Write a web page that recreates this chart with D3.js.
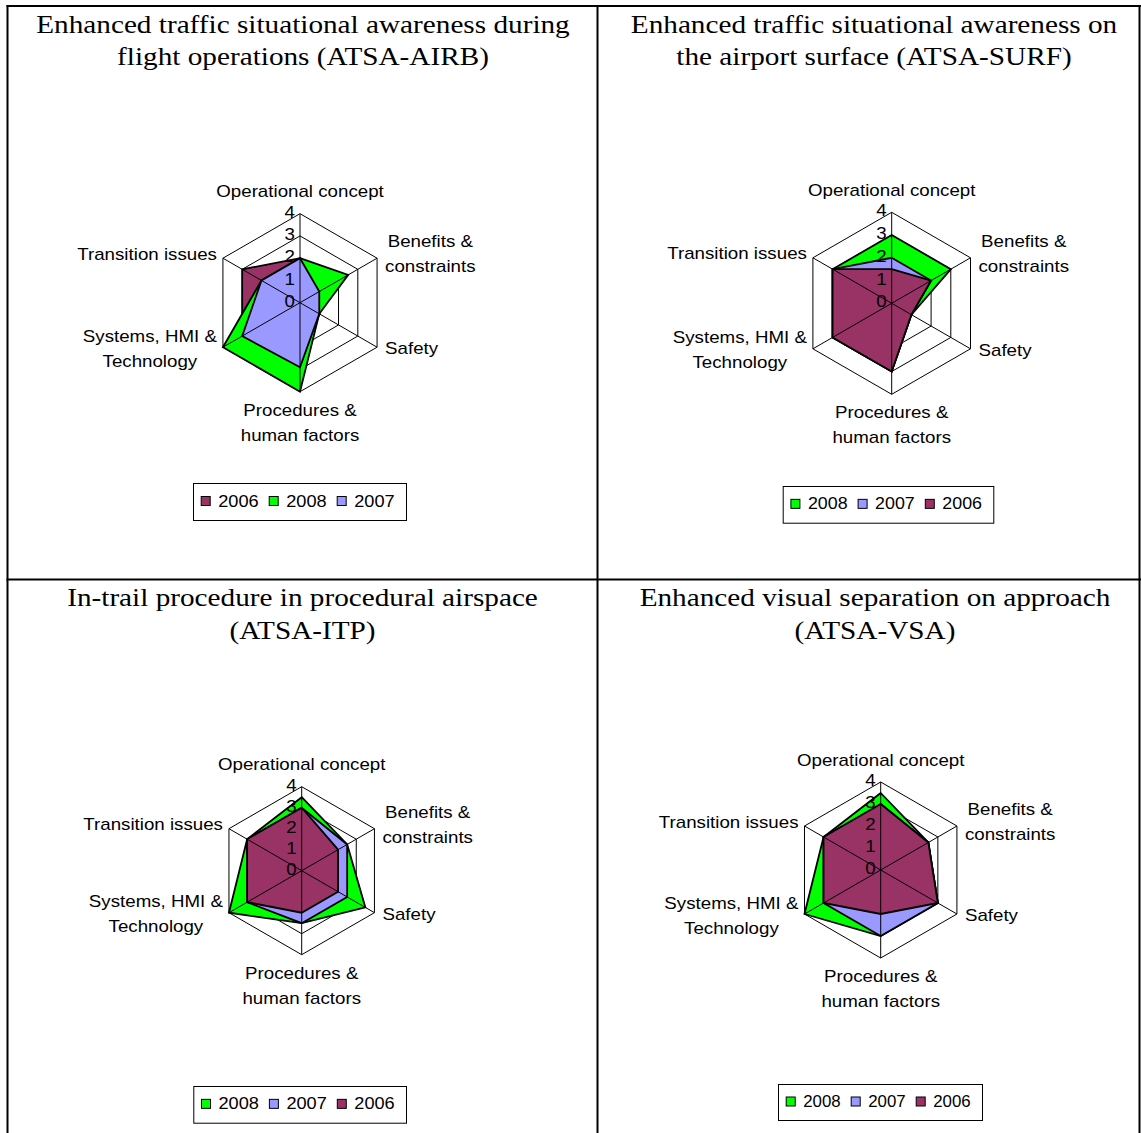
<!DOCTYPE html>
<html>
<head>
<meta charset="utf-8">
<script src="https://cdn.jsdelivr.net/npm/d3@7"></script>
<style>
  html, body { margin: 0; padding: 0; background: #fff; }
  svg { display: block; }
</style>
</head>
<body>
<svg id="chart" width="1141" height="1133"></svg>
<script>
// ---------- DATA ----------
const categories = ["Operational concept", "Benefits & constraints", "Safety",
  "Procedures & human factors", "Systems, HMI & Technology", "Transition issues"];
const categoryLines = [["Operational concept"], ["Benefits &", "constraints"], ["Safety"],
  ["Procedures &", "human factors"], ["Systems, HMI &", "Technology"], ["Transition issues"]];
const tickLabels = ["0", "1", "2", "3", "4"];
const years = ["2006", "2007", "2008"];

const titleAIRB = ["Enhanced traffic situational awareness during", "flight operations (ATSA-AIRB)"];
const titleSURF = ["Enhanced traffic situational awareness on", "the airport surface (ATSA-SURF)"];
const titleITP  = ["In-trail procedure in procedural airspace", "(ATSA-ITP)"];
const titleVSA  = ["Enhanced visual separation on approach", "(ATSA-VSA)"];

const airb2006 = [2, 2, 1, 3, 3, 3];
const airb2008 = [2, 2.5, 1, 4, 4, 2];
const airb2007 = [2, 1, 1, 2.9, 3, 2];

const surf2008 = [3, 3, 1, 3, 3, 3];
const surf2007 = [2, 2, 1, 3, 3, 3];
const surf2006 = [1.5, 2, 1, 3, 3, 3];

const itp2008 = [3.5, 2.5, 3.5, 2.5, 4, 3];
const itp2007 = [3, 2.5, 2.5, 2.5, 3, 3];
const itp2006 = [3, 2, 2, 2, 3, 3];

const vsa2008 = [3.5, 2.5, 3, 3, 4, 3];
const vsa2007 = [3, 2.5, 3, 3, 3, 3];
const vsa2006 = [3, 2.5, 3, 2, 3, 3];

const yearColors = { "2006": "#993366", "2007": "#9999FF", "2008": "#00FF00" };

// ---------- LAYOUT ----------
const charts = [
  { title: titleAIRB, tx: 303, ty: 32.5, cx: 300, cy: 302.7, R: 89,
    series: [["2006", airb2006], ["2008", airb2008], ["2007", airb2007]],
    legend: { x: 193, y: 483, w: 213, h: 37 } },
  { title: titleSURF, tx: 874, ty: 32.5, cx: 891.7, cy: 303.3, R: 91,
    series: [["2008", surf2008], ["2007", surf2007], ["2006", surf2006]],
    legend: { x: 782.7, y: 486, w: 210.6, h: 36.7 } },
  { title: titleITP, tx: 302.5, ty: 606.3, cx: 301.7, cy: 870.7, R: 84,
    series: [["2008", itp2008], ["2007", itp2007], ["2006", itp2006]],
    legend: { x: 193.3, y: 1086, w: 212.7, h: 36.7 } },
  { title: titleVSA, tx: 875, ty: 606.3, cx: 880.7, cy: 870, R: 88,
    series: [["2008", vsa2008], ["2007", vsa2007], ["2006", vsa2006]],
    legend: { x: 778, y: 1084, w: 204, h: 36 } }
];

const SANS = "'Liberation Sans', Arial, sans-serif";
const SERIF = "'Liberation Serif', 'Times New Roman', serif";
const SX = 1.17; // horizontal stretch of the reference's text

const svg = d3.select("#chart");

// table borders
const borders = svg.append("g").attr("stroke", "#000").attr("stroke-width", 2).attr("fill", "none");
borders.append("line").attr("x1", 6.5).attr("y1", 6).attr("x2", 1141).attr("y2", 6);
borders.append("line").attr("x1", 7.5).attr("y1", 5).attr("x2", 7.5).attr("y2", 1133);
borders.append("line").attr("x1", 597.5).attr("y1", 5).attr("x2", 597.5).attr("y2", 1133);
borders.append("line").attr("x1", 1139.5).attr("y1", 5).attr("x2", 1139.5).attr("y2", 1133);
borders.append("line").attr("x1", 6.5).attr("y1", 579.5).attr("x2", 1141).attr("y2", 579.5);

function stretchedText(g, x, y, str, opts) {
  const sx = opts.sx || SX;
  const t = g.append("text")
    .attr("transform", `translate(${x},${y}) scale(${sx},1)`)
    .attr("text-anchor", opts.anchor || "middle")
    .attr("font-family", opts.family || SANS)
    .attr("font-size", opts.size || 16)
    .attr("fill", "#000")
    .text(str);
  if (opts.dy) t.attr("dy", opts.dy);
  return t;
}

const nAxes = categories.length;
const angleOf = i => i * 2 * Math.PI / nAxes;

charts.forEach(ch => {
  const g = svg.append("g");
  // title
  ch.title.forEach((line, k) => {
    stretchedText(g, ch.tx, ch.ty + k * 32.5, line, { family: SERIF, size: 25 });
  });

  const r = d3.scaleLinear().domain([0, 4]).range([0, ch.R]);
  const plot = g.append("g").attr("transform", `translate(${ch.cx},${ch.cy})`);
  const pt = (i, v) => [Math.sin(angleOf(i)) * r(v), -Math.cos(angleOf(i)) * r(v)];

  const radial = d3.lineRadial()
    .angle((d, i) => angleOf(i))
    .radius(d => r(d))
    .curve(d3.curveLinearClosed);

  // grid rings
  tickLabels.slice(1).forEach(tl => {
    const v = +tl;
    plot.append("path")
      .attr("d", radial(d3.range(nAxes).map(() => v)))
      .attr("fill", "none").attr("stroke", "#000").attr("stroke-width", 1);
  });

  // series polygons
  ch.series.forEach(([yr, vals]) => {
    plot.append("path")
      .attr("d", radial(vals))
      .attr("fill", yearColors[yr])
      .attr("stroke", "#000")
      .attr("stroke-width", 1.8)
      .attr("stroke-linejoin", "miter");
  });

  // spokes
  d3.range(nAxes).forEach(i => {
    const [x, y] = pt(i, 4);
    plot.append("line").attr("x1", 0).attr("y1", 0).attr("x2", x).attr("y2", y)
      .attr("stroke", "#000").attr("stroke-width", 1);
  });

  // tick labels
  tickLabels.forEach(tl => {
    stretchedText(plot, -5, -r(+tl) - 1.5, tl, { anchor: "end", dy: "0.35em" });
  });

  // category labels
  categoryLines.forEach((lines, i) => {
    const [vx, vy] = pt(i, 4);
    const lg = plot.append("g");
    const texts = lines.map(l => stretchedText(lg, 0, 0, l, { dy: "0.35em" }));
    const blockW = d3.max(texts, t => t.node().getComputedTextLength()) * SX;
    const n = lines.length;
    let cxL, firstY;
    const s = Math.sin(angleOf(i));
    if (Math.abs(s) < 0.01) {
      cxL = vx;
      if (vy < 0) firstY = vy - 22 - (n - 1) * 25;
      else firstY = vy + 18.5;
    } else {
      cxL = s > 0 ? vx + 8 + blockW / 2 : vx - 6 - blockW / 2;
      const centerY = vy < 0 ? vy - 4 : vy + 1.5;
      firstY = centerY - (n - 1) * 25 / 2;
    }
    texts.forEach((t, k) => {
      t.attr("transform", `translate(${cxL},${firstY + k * 25}) scale(${SX},1)`);
    });
  });

  // legend
  const L = ch.legend;
  const lg = g.append("g");
  lg.append("rect").attr("x", L.x + 0.5).attr("y", L.y + 0.5).attr("width", L.w).attr("height", L.h)
    .attr("fill", "#fff").attr("stroke", "#000").attr("stroke-width", 1);
  const stride = (L.w - 9) / ch.series.length;
  const legSX = (stride - 27.5) / 35.6;
  const midY = L.y + L.h / 2;
  ch.series.forEach(([yr], k) => {
    const sx0 = L.x + 7.7 + k * stride;
    lg.append("rect").attr("x", sx0 + 0.5).attr("y", midY - 5).attr("width", 9).attr("height", 9)
      .attr("fill", yearColors[yr]).attr("stroke", "#000").attr("stroke-width", 1);
    stretchedText(lg, sx0 + 17.5, midY - 0.5, yr, { anchor: "start", dy: "0.35em", sx: legSX });
  });
});
</script>
</body>
</html>
